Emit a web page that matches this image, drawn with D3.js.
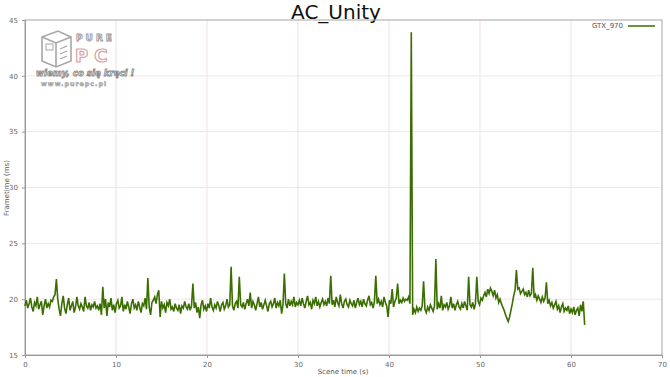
<!DOCTYPE html>
<html>
<head>
<meta charset="utf-8">
<script src="https://cdn.jsdelivr.net/npm/d3@7"></script>
<style>
  body { margin: 0; background: #fff; }
  text { font-family: "DejaVu Sans", sans-serif; }
</style>
</head>
<body>
<script>
// dane
const seriesName = "GTX_970";
const xTicks = [0, 10, 20, 30, 40, 50, 60, 70];
const yTicks = [15, 20, 25, 30, 35, 40, 45];
const rowSeconds = 3;      // każdy wiersz = 3 s nagrania
const sampleStep = 0.15;   // odstęp próbek w wierszu (s)

// frametime (ms)
const frametimeRows = [
  [19.4, 19.9, 19.2, 19.6, 20.1, 19.3, 18.9, 19.7, 19.4, 20.2, 19.1, 19.5, 19.8, 18.6, 19.4, 20.0, 19.2, 19.6, 19.3, 19.9],
  [19.8, 20.2, 20.4, 21.8, 20.0, 19.1, 18.5, 19.6, 20.3, 19.2, 18.7, 19.5, 20.1, 19.0, 19.4, 19.8, 18.8, 19.3, 20.2, 19.4],
  [19.1, 19.6, 19.3, 18.9, 20.2, 19.4, 19.2, 19.7, 19.0, 19.5, 19.3, 19.8, 19.2, 19.4, 19.0, 19.6, 18.6, 21.1, 19.2, 20.0],
  [18.5, 19.7, 19.3, 20.1, 19.0, 19.5, 18.8, 19.6, 19.9, 19.2, 19.4, 20.2, 18.9, 19.5, 19.1, 19.8, 19.3, 18.7, 19.6, 20.0],
  [19.2, 19.5, 19.0, 19.8, 19.3, 18.8, 19.6, 19.4, 20.1, 19.1, 21.9, 19.3, 18.6, 19.7, 19.9, 20.2, 19.6, 20.4, 20.8, 18.4],
  [19.8, 19.2, 19.5, 18.8, 19.7, 19.4, 20.0, 19.1, 19.3, 18.9, 19.6, 19.2, 19.0, 19.5, 18.7, 19.4, 19.2, 19.8, 19.3, 19.1],
  [19.6, 19.0, 19.4, 21.4, 19.2, 19.7, 18.8, 19.3, 18.3, 19.5, 19.9, 19.1, 19.4, 18.9, 19.6, 19.2, 20.1, 19.3, 19.0, 19.5],
  [19.2, 19.8, 19.4, 18.9, 19.5, 19.7, 19.1, 19.4, 20.0, 19.3, 19.5, 22.9, 19.4, 19.0, 19.6, 19.8, 19.2, 22.0, 19.5, 19.3],
  [19.7, 19.1, 19.6, 20.0, 19.4, 20.6, 19.2, 19.8, 19.5, 19.0, 19.6, 20.2, 19.3, 19.7, 19.1, 19.5, 19.9, 19.4, 18.9, 19.6],
  [19.8, 19.3, 19.6, 20.1, 19.2, 19.7, 19.4, 19.9, 18.7, 19.5, 22.3, 19.6, 19.2, 20.0, 19.4, 19.8, 19.5, 20.2, 19.3, 19.7],
  [19.5, 19.9, 19.4, 20.1, 19.6, 19.2, 19.8, 20.3, 19.5, 19.7, 19.1, 19.9, 19.6, 20.2, 19.4, 19.8, 19.3, 19.7, 20.0, 19.5],
  [19.8, 19.4, 20.1, 19.6, 22.1, 19.5, 19.9, 19.3, 20.2, 19.7, 19.4, 20.4, 19.6, 19.2, 19.8, 20.0, 19.5, 19.3, 19.9, 19.6],
  [19.4, 19.9, 19.2, 19.7, 20.1, 19.5, 19.8, 19.3, 20.0, 19.6, 19.4, 19.9, 20.3, 19.5, 19.7, 19.2, 19.8, 22.1, 19.6, 20.0],
  [19.5, 19.8, 19.3, 20.2, 19.7, 19.4, 18.4, 19.9, 19.6, 20.9, 19.3, 19.8, 20.1, 21.4, 19.6, 19.9, 19.7, 20.1, 19.8, 20.0],
  [19.9, 20.2, 19.6, 43.9, 18.6, 19.1, 18.8, 19.3, 18.9, 19.2, 19.0, 19.4, 21.6, 19.1, 18.8, 19.3, 19.0, 19.5, 19.2, 18.9],
  [19.4, 23.6, 19.1, 19.6, 19.2, 20.3, 19.0, 19.5, 19.3, 19.7, 19.1, 19.4, 20.2, 19.2, 19.6, 19.0, 19.5, 19.8, 19.3, 19.1],
  [19.6, 19.2, 19.8, 19.4, 19.0, 22.0, 19.5, 19.3, 19.7, 19.1, 19.6, 22.0, 19.8, 19.5, 20.1, 19.9, 20.3, 20.6, 20.2, 20.9],
  [20.5, 21.0, 20.7, 20.3, 20.8, 20.1, 20.4, 19.7, 20.0, 19.6, 19.3, 19.0, 18.6, 18.3, 18.0, 18.4, 19.0, 19.6, 20.3, 20.8],
  [22.6, 20.9, 21.0, 20.5, 20.7, 20.9, 20.4, 20.6, 20.2, 20.8, 20.3, 20.5, 22.8, 20.1, 20.4, 19.9, 20.3, 20.0, 19.7, 20.2],
  [19.8, 20.1, 21.5, 19.6, 19.9, 19.4, 19.7, 19.2, 19.5, 19.8, 19.1, 19.4, 18.8, 19.3, 19.6, 18.9, 19.2, 19.0, 19.4, 18.7],
  [19.1, 18.8, 19.3, 18.6, 19.0, 19.2, 18.5, 19.5, 18.9, 19.8, 17.7]
];

// punkty (czas sceny, frametime)
const points = [];
frametimeRows.forEach((row, r) => {
  row.forEach((v, j) => points.push([r * rowSeconds + j * sampleStep, v]));
});

const width = 670;
const height = 377;
const margin = { top: 20, right: 8, bottom: 22, left: 25 };

const svg = d3.select("body")
  .append("svg")
  .attr("width", width)
  .attr("height", height);

const x = d3.scaleLinear().domain([0, 70]).range([margin.left, width - margin.right]);
const y = d3.scaleLinear().domain([15, 45]).range([height - margin.bottom, margin.top]);

// tytuł
svg.append("text")
  .attr("x", 336)
  .attr("y", 19)
  .attr("text-anchor", "middle")
  .style("font-size", "20px")
  .style("fill", "#111")
  .text("AC_Unity");

// siatka
svg.append("g")
  .selectAll("line")
  .data(xTicks.slice(1, -1))
  .enter()
  .append("line")
  .attr("x1", d => x(d)).attr("x2", d => x(d))
  .attr("y1", y(45)).attr("y2", y(15))
  .style("stroke", "#f2dfe4");

svg.append("g")
  .selectAll("line")
  .data(yTicks.slice(1, -1))
  .enter()
  .append("line")
  .attr("x1", x(0)).attr("x2", x(70))
  .attr("y1", d => y(d)).attr("y2", d => y(d))
  .style("stroke", "#efe6e9");

// logo PurePC (znak wodny)
const logo = svg.append("g").attr("transform", "translate(40,29)").style("opacity", 0.75);
logo.append("path")
  .attr("d", "M2,8 L18,2 L31,8 L31,32 L16,38 L2,32 Z M2,8 L16,14 L31,8 M16,14 L16,38")
  .style("fill", "none").style("stroke", "#8a8a8a").style("stroke-width", 1.6);
logo.append("rect").attr("x", 6).attr("y", 15).attr("width", 7).attr("height", 6)
  .style("fill", "none").style("stroke", "#8a8a8a").style("stroke-width", 1);
logo.append("path").attr("d", "M20,20 L27,17 M20,25 L27,22 M20,30 L27,27")
  .style("stroke", "#8a8a8a").style("stroke-width", 1.2);
logo.append("text")
  .attr("x", 36).attr("y", 12)
  .style("font-size", "9px").style("font-weight", "bold").style("letter-spacing", "3px")
  .style("fill", "#fff").style("stroke", "#7a7a7a").style("stroke-width", 0.9)
  .text("PURE");
logo.append("text")
  .attr("x", 35).attr("y", 33)
  .style("font-size", "18px").style("font-weight", "bold").style("letter-spacing", "6px")
  .style("fill", "#fff").style("stroke", "#d08080").style("stroke-width", 1.2)
  .text("PC");
logo.append("text")
  .attr("x", -4).attr("y", 47)
  .style("font-size", "8.6px").style("font-weight", "bold").style("font-style", "italic")
  .style("fill", "#fff").style("stroke", "#6a6a6a").style("stroke-width", 0.9)
  .text("wiemy, co się kręci !");
logo.append("text")
  .attr("x", 1).attr("y", 57)
  .style("font-size", "6.3px").style("font-weight", "bold").style("letter-spacing", "1px")
  .style("fill", "#bbb").style("stroke", "#777").style("stroke-width", 0.5)
  .text("www.purepc.pl");

// ramka
svg.append("rect")
  .attr("x", x(0)).attr("y", y(45))
  .attr("width", x(70) - x(0)).attr("height", y(15) - y(45))
  .style("fill", "none")
  .style("stroke", "#a6a6a6");

// osie
const xAxis = svg.append("g")
  .attr("transform", `translate(0,${y(15)})`)
  .call(d3.axisBottom(x).tickValues(xTicks).tickSize(3).tickPadding(4));
const yAxis = svg.append("g")
  .attr("transform", `translate(${x(0)},0)`)
  .call(d3.axisLeft(y).tickValues(yTicks).tickSize(3).tickPadding(4));

[xAxis, yAxis].forEach(a => {
  a.select(".domain").style("stroke", "#999");
  a.selectAll(".tick line").style("stroke", "#999");
  a.selectAll(".tick text").style("font-size", "7px").style("fill", "#666");
});

svg.append("text")
  .attr("x", 343).attr("y", 374)
  .attr("text-anchor", "middle")
  .style("font-size", "7px").style("fill", "#555")
  .text("Scene time (s)");

svg.append("text")
  .attr("transform", "translate(9,188) rotate(-90)")
  .attr("text-anchor", "middle")
  .style("font-size", "7px").style("fill", "#555")
  .text("Frametime (ms)");

// linia danych
const line = d3.line().x(d => x(d[0])).y(d => y(d[1]));
svg.append("path")
  .datum(points)
  .attr("d", line)
  .style("fill", "none")
  .style("stroke", "#3a6e00")
  .style("stroke-width", 1.6);

// legenda
svg.append("text")
  .attr("x", 623).attr("y", 28)
  .attr("text-anchor", "end")
  .style("font-size", "7px").style("fill", "#555")
  .text(seriesName);
svg.append("line")
  .attr("x1", 628).attr("x2", 655)
  .attr("y1", 26).attr("y2", 26)
  .style("stroke", "#3a6e00").style("stroke-width", 1.5);
</script>
</body>
</html>
